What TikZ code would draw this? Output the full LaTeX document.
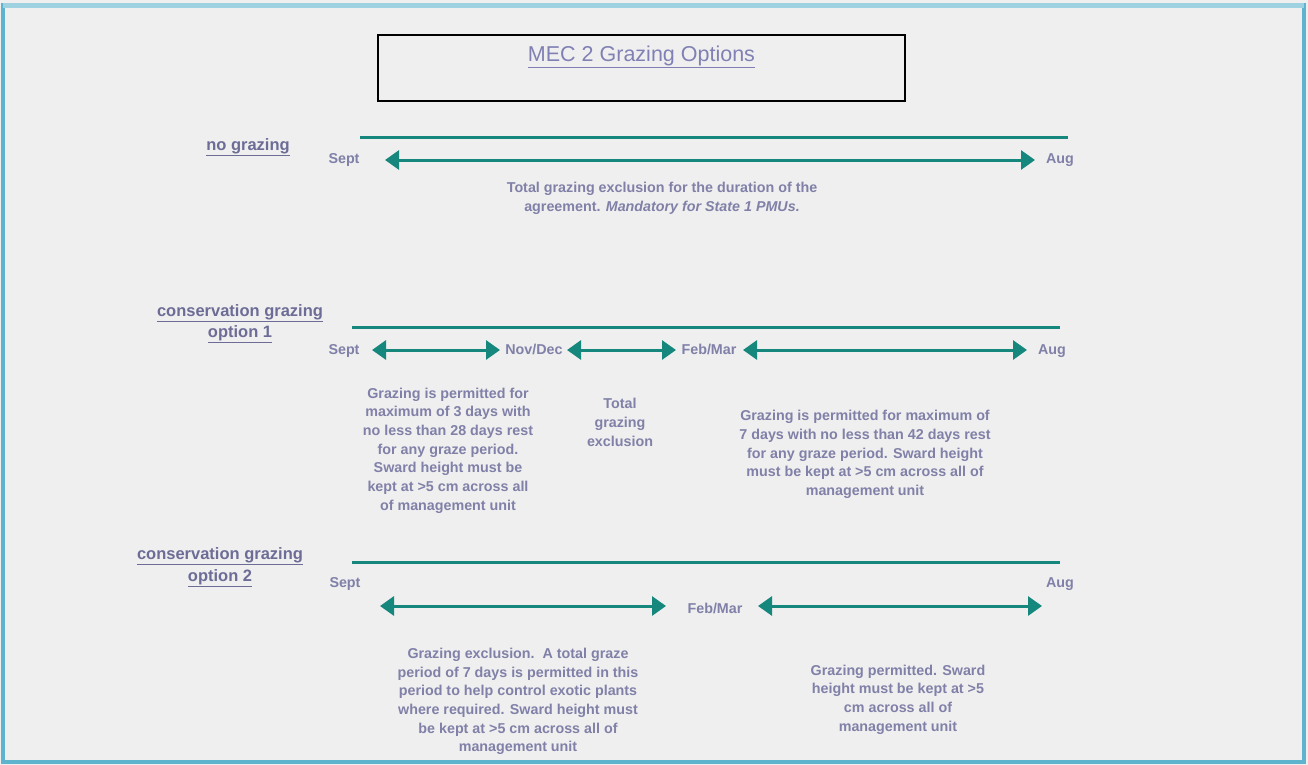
\documentclass[tikz,border=0pt]{standalone}
\usepackage{fontspec}
\setmainfont{Liberation Sans}
\usetikzlibrary{arrows.meta}
\definecolor{bg}{RGB}{239,239,239}
\definecolor{teal1}{RGB}{22,135,125}
\definecolor{txt}{RGB}{128,128,168}
\definecolor{hdr}{RGB}{108,108,150}
\definecolor{ttl}{RGB}{128,128,180}
\definecolor{frame}{RGB}{95,180,205}
\tikzset{
  x=1pt, y=-1pt,
  body/.style={font=\fontsize{14.3}{18.7}\selectfont\bfseries, text=txt, align=center, inner sep=0pt},
  datelbl/.style={font=\fontsize{14.3}{16}\selectfont\bfseries, text=txt, inner sep=0pt, text height=10.5pt, text depth=3pt},
  hdrlbl/.style={font=\fontsize{16.5}{21.5}\selectfont\bfseries, text=hdr, align=center, inner sep=0pt},
  bar/.style={draw=teal1, line width=3pt},
  span/.style={draw=teal1, line width=3pt, {Triangle[length=14pt,width=19pt]}-{Triangle[length=14pt,width=19pt]}},
}
\begin{document}
\begin{tikzpicture}
\useasboundingbox (0,0) rectangle (1308,765);
\fill[bg] (0,0) rectangle (1308,765);
\draw[frame, line width=4pt] (3,5) rectangle (1304,762);
\draw[frame!60!white, line width=5pt] (3,6) -- (1304,6);

% title
\node[draw=black, line width=1.8pt, minimum width=527pt, minimum height=66pt, inner sep=0pt] (titlebox) at (641.5,68) {};
\node[font=\fontsize{21.5}{24}\selectfont, text=ttl, inner sep=0pt] (title) at (641.5,57) {\underline{MEC 2 Grazing Options}};

% row 1
\node[hdrlbl] (h1) at (248,147) {\underline{no grazing}};
\coordinate (b1s) at (360,137); \coordinate (b1e) at (1068,137);
\draw[bar] (b1s) -- (b1e);
\node[datelbl] (sept1) at (344,159.5) {Sept};
\node[datelbl] (aug1) at (1060,159.5) {Aug};
\coordinate (a1s) at (385,160); \coordinate (a1e) at (1035,160);
\draw[span] (a1s) -- (a1e);
\node[body] (t1) at (662,198) {Total grazing exclusion for the duration of the\\agreement. \textit{Mandatory for State 1 PMUs.}};

% row 2
\node[hdrlbl] (h2) at (240,323.5) {\underline{conservation grazing}\\\underline{option 1}};
\coordinate (b2s) at (352,327); \coordinate (b2e) at (1060,327);
\draw[bar] (b2s) -- (b2e);
\node[datelbl] (sept2) at (344,350.5) {Sept};
\node[datelbl] (nov2) at (534,350.5) {Nov/Dec};
\node[datelbl] (feb2) at (709,350.5) {Feb/Mar};
\node[datelbl] (aug2) at (1052,350.5) {Aug};
\coordinate (a2s) at (372,350); \coordinate (a2e) at (500,350);
\coordinate (a3s) at (567,350); \coordinate (a3e) at (676,350);
\coordinate (a4s) at (743,350); \coordinate (a4e) at (1027,350);
\draw[span] (a2s) -- (a2e);
\draw[span] (a3s) -- (a3e);
\draw[span] (a4s) -- (a4e);
\node[body] (t2) at (448,450.5) {Grazing is permitted for\\maximum of 3 days with\\no less than 28 days rest\\for any graze period.\\Sward height must be\\kept at >5 cm across all\\of management unit};
\node[body] (t3) at (620,422.5) {Total\\grazing\\exclusion};
\node[body] (t4) at (865,454.5) {Grazing is permitted for maximum of\\7 days with no less than 42 days rest\\for any graze period. Sward height\\must be kept at >5 cm across all of\\management unit};

% row 3
\node[hdrlbl] (h3) at (220,567) {\underline{conservation grazing}\\\underline{option 2}};
\coordinate (b3s) at (352,562); \coordinate (b3e) at (1060,562);
\draw[bar] (b3s) -- (b3e);
\node[datelbl] (sept3) at (345,583.5) {Sept};
\node[datelbl] (aug3) at (1060,583.5) {Aug};
\node[datelbl] (feb3) at (715,609.5) {Feb/Mar};
\coordinate (a5s) at (380,606); \coordinate (a5e) at (666,606);
\coordinate (a6s) at (758,606); \coordinate (a6e) at (1042,606);
\draw[span] (a5s) -- (a5e);
\draw[span] (a6s) -- (a6e);
\node[body] (t5) at (518,701.5) {Grazing exclusion.\ \ A total graze\\period of 7 days is permitted in this\\period to help control exotic plants\\where required. Sward height must\\be kept at >5 cm across all of\\management unit};
\node[body] (t6) at (898,699.5) {Grazing permitted. Sward\\height must be kept at >5\\cm across all of\\management unit};
\end{tikzpicture}
\end{document}
